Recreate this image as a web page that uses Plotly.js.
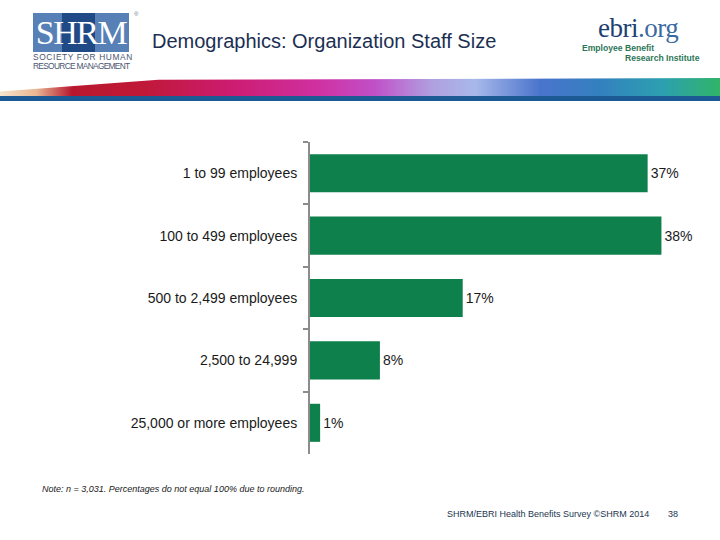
<!DOCTYPE html>
<html>
<head>
<meta charset="utf-8">
<script src="https://cdn.plot.ly/plotly-3.0.1.min.js"></script>
<style>
  html, body { margin: 0; padding: 0; background: #ffffff; }
  #wrap { position: relative; width: 720px; height: 540px; overflow: hidden; font-family: "Liberation Sans", Arial, sans-serif; }
  #chart { position: absolute; left: 0; top: 0; width: 720px; height: 540px; }
  .deco { position: absolute; white-space: nowrap; }
  #shrmbox { left: 33px; top: 13px; width: 96px; height: 39px;
    background: linear-gradient(to right, #5680b6 0px, #5680b6 29px, #1f4a86 29px, #1f4a86 62px, #5680b6 62px); }
  #shrmword { left: 33px; top: 13px; width: 96px; height: 39px;
    color: #ffffff; font-family: "Liberation Serif", "DejaVu Serif", serif; font-size: 34px; line-height: 40px;
    text-align: center; letter-spacing: -1.5px; }
  .shrmtxt { left: 33px; font-size: 8.4px; line-height: 9px; color: #4a5670; }
  #s1 { top: 53px; letter-spacing: 0.6px; }
  #s2 { top: 62px; letter-spacing: -0.7px; }
  #tm { left: 134px; top: 11px; font-size: 6px; color: #6a7a90; }
  #ebri { left: 598px; top: 13px; font-family: "Liberation Serif", "DejaVu Serif", serif; font-size: 27px; color: #1d3f72; letter-spacing: -0.5px; }
  #ebri span { color: #3a6aa2; }
  #ebri1 { left: 582px; top: 43px; font-size: 8.6px; color: #2e7658; font-weight: bold; }
  #ebri2 { left: 625px; top: 53px; font-size: 8.6px; color: #2e7658; font-weight: bold; }
  #stripe { left: 0px; top: 78px; width: 720px; height: 18px;
    background: linear-gradient(to right, #f6e4cc 0%, #eab894 5%, #b8182e 10%, #c01838 20%, #cc1c70 32%, #d030a0 44%, #c050c8 52%, #b0a0e0 60%, #a8b8ea 66%, #4a74cc 75%, #3480c0 83%, #2ca0b0 92%, #30b468 100%);
    clip-path: polygon(0 75%, 22% 10%, 100% 0, 100% 100%, 0 100%); }
  #band { left: 0px; top: 96px; width: 720px; height: 5px; background: #1b5a94; }
</style>
</head>
<body>
<div id="wrap">
  <div class="deco" id="stripe"></div>
  <div class="deco" id="band"></div>
  <div class="deco" id="shrmbox"></div>
  <div class="deco" id="shrmword">SHRM</div>
  <div class="deco" id="tm">®</div>
  <div class="deco shrmtxt" id="s1">SOCIETY FOR HUMAN</div>
  <div class="deco shrmtxt" id="s2">RESOURCE MANAGEMENT</div>
  <div class="deco" id="ebri">ebri<span>.org</span></div>
  <div class="deco" id="ebri1">Employee Benefit</div>
  <div class="deco" id="ebri2">Research Institute</div>
  <div id="chart"></div>
</div>
<script>
// ---- data ----
var categories = ["1 to 99 employees", "100 to 499 employees", "500 to 2,499 employees", "2,500 to 24,999", "25,000 or more employees"];
var values = [36.7, 38.2, 16.6, 7.6, 1.1];
var valueLabels = ["37%", "38%", "17%", "8%", "1%"];
var titleText = "Demographics: Organization Staff Size";
var noteText = "Note: n = 3,031. Percentages do not equal 100% due to rounding.";
var sourceText = "SHRM/EBRI Health Benefits Survey ©SHRM 2014";
var pageNumber = "38";

// ---- layout helpers (pixel -> paper) ----
var L = 310, R = 678, T = 142, B = 454;
function px(x) { return (x - L) / (R - L); }
function py(y) { return (B - y) / (B - T); }

var trace = {
  type: "bar",
  orientation: "h",
  y: categories,
  x: values,
  text: valueLabels,
  textposition: "outside",
  textfont: { family: "Liberation Sans, Arial, sans-serif", size: 14, color: "#1a1a1a" },
  cliponaxis: false,
  marker: { color: "#0e804c", line: { width: 0 } },
  hoverinfo: "none"
};

var layout = {
  width: 720, height: 540,
  paper_bgcolor: "rgba(0,0,0,0)",
  plot_bgcolor: "rgba(0,0,0,0)",
  margin: { l: L, r: 720 - R, t: T, b: 540 - B, pad: 0 },
  showlegend: false,
  bargap: 0.39,
  font: { family: "Liberation Sans, Arial, sans-serif", color: "#1a1a1a" },
  title: {
    text: titleText,
    font: { family: "Liberation Sans, Arial, sans-serif", size: 20, color: "#1c2f52" },
    x: 152 / 720, xref: "container", xanchor: "left",
    y: 1 - 41 / 540, yref: "container", yanchor: "middle"
  },
  xaxis: { range: [0, 40], visible: false, fixedrange: true },
  yaxis: {
    type: "category",
    autorange: "reversed",
    showline: true, linecolor: "#8c8c8c", linewidth: 2,
    ticks: "outside", tickson: "boundaries", ticklen: 5, tickcolor: "#8c8c8c", tickwidth: 2,
    showgrid: false, zeroline: false,
    ticklabelstandoff: 8,
    tickfont: { family: "Liberation Sans, Arial, sans-serif", size: 14, color: "#1a1a1a" },
    fixedrange: true
  },
  annotations: [
    { text: noteText, xref: "paper", yref: "paper", x: px(40), y: py(489), xanchor: "left", yanchor: "middle",
      showarrow: false, font: { size: 9, color: "#1a1a1a", style: "italic" } },
    { text: sourceText, xref: "paper", yref: "paper", x: px(445), y: py(514), xanchor: "left", yanchor: "middle",
      showarrow: false, font: { size: 9, color: "#1d3550" } },
    { text: pageNumber, xref: "paper", yref: "paper", x: px(666), y: py(514), xanchor: "left", yanchor: "middle",
      showarrow: false, font: { size: 9, color: "#1d3550" } }
  ]
};

Plotly.newPlot("chart", [trace], layout, { displayModeBar: false, staticPlot: true });
</script>
</body>
</html>
